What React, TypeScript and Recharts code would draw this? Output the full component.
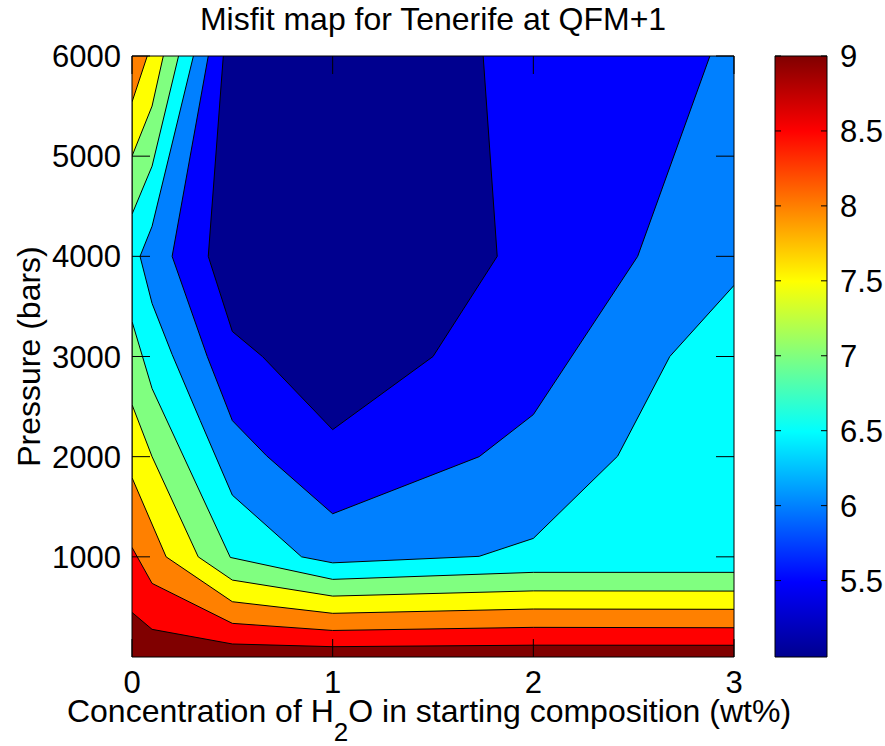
import { ComposedChart, Area, XAxis, YAxis, Label } from 'recharts';

type Pt = [number, number];

// contour edges: x = wt% H2O, y = pressure (bars).
// each edge is the outer boundary of the band named, the band fills from it up to 6000 bars
const plotFloor: Pt[] = [[0, 0], [3, 0]];
const redBand: Pt[] = [[0, 445], [0.1, 276], [0.5, 130], [1, 103], [2, 118], [3, 117]];
const orangeBand: Pt[] = [[0, 1094], [0.1, 735], [0.5, 336], [1, 265], [2, 296], [3, 292]];
const yellowBand: Pt[] = [
  [0.076, 6000], [0, 5540], [0, 1790], [0.17, 1000], [0.5, 552], [1, 436], [2, 479], [3, 476],
];
const greenBand: Pt[] = [
  [0.156, 6000], [0.1, 5500], [0, 5000], [0, 2520], [0.1, 2000], [0.33, 1000], [0.5, 768],
  [1, 608], [2, 660], [3, 658],
];
const cyanBand: Pt[] = [
  [0.232, 6000], [0.1, 4900], [0, 4420], [0, 3350], [0.1, 2680], [0.49, 994], [1, 775],
  [2, 845], [3, 845],
];
const skyBand: Pt[] = [
  [0.306, 6000], [0.1, 4300], [0.04, 4000], [0.1, 3530], [0.2, 3020], [0.34, 2360], [0.5, 1616],
  [0.845, 1000], [1, 940], [1.73, 1005], [2, 1184], [2.42, 2005], [2.68, 3000], [3, 3710],
];
const blueBand: Pt[] = [
  [0.38, 6000], [0.2, 4000], [0.375, 3000], [0.5, 2360], [0.67, 2010], [1, 1430], [1.73, 2000],
  [2, 2420], [2.52, 4000], [2.88, 6000],
];
const navyBand: Pt[] = [
  [0.455, 6000], [0.38, 4000], [0.5, 3250], [0.65, 3000], [1, 2270], [1.5, 3000], [1.82, 4000],
  [1.75, 6000],
];

const bandColors = [
  '#800000', '#FF0000', '#FF8000', '#FFFF00', '#80FF80', '#00FFFF', '#0080FF', '#0000FF', '#00008F',
];
const bandEdges = [
  plotFloor, redBand, orangeBand, yellowBand, greenBand, cyanBand, skyBand, blueBand, navyBand,
];

const xTicks = [0, 1, 2, 3];
const yTicks = [1000, 2000, 3000, 4000, 5000, 6000];
const cbTicks = [5.5, 6, 6.5, 7, 7.5, 8, 8.5, 9];
const cbMin = 4.99;
const cbMax = 9;
const cbBar: Pt[] = [[0, cbMin], [1, cbMin]];

const FONT = '"Liberation Sans", Arial, Helvetica, sans-serif';
const FS = 32;
const TICK_FS = 31;

const toRows = (pts: Pt[]) => pts.map(([x, y]) => ({ x, y }));

const NoTick = () => null;

const LeftTick = ({ x, y, payload }: any) => (
  <text x={x - 27} y={y} dy="0.355em" textAnchor="end" fontSize={TICK_FS} fill="#000" fontFamily={FONT}>
    {payload.value}
  </text>
);

const BottomTick = ({ x, y, payload }: any) => (
  <text x={x} y={y + 52} textAnchor="middle" fontSize={TICK_FS} fill="#000" fontFamily={FONT}>
    {payload.value}
  </text>
);

const BarTick = ({ x, y, payload }: any) => (
  <text x={x + 17} y={y} dy="0.355em" textAnchor="start" fontSize={TICK_FS} fill="#000" fontFamily={FONT}>
    {payload.value}
  </text>
);

const TitleLabel = ({ viewBox }: any) => (
  <text
    x={viewBox.x + viewBox.width / 2}
    y={30}
    textAnchor="middle"
    fontSize={FS}
    fill="#000"
    fontFamily={FONT}
  >
    Misfit map for Tenerife at QFM+1
  </text>
);

const XLabel = ({ viewBox }: any) => (
  <text
    x={viewBox.x + viewBox.width / 2 - 4}
    y={viewBox.y + 65}
    textAnchor="middle"
    fontSize={FS}
    fill="#000"
    fontFamily={FONT}
  >
    Concentration of H
    <tspan fontSize={26} dy={19}>2</tspan>
    <tspan dy={-19}>O in starting composition (wt%)</tspan>
  </text>
);

const YLabel = ({ viewBox }: any) => {
  const cx = viewBox.x + 8;
  const cy = viewBox.y + viewBox.height / 2;
  return (
    <text
      x={cx}
      y={cy}
      transform={`rotate(-90, ${cx}, ${cy})`}
      textAnchor="middle"
      fontSize={FS}
      fill="#000"
      fontFamily={FONT}
    >
      Pressure (bars)
    </text>
  );
};

export default function App() {
  return (
    <div style={{ position: 'fixed', left: 0, top: 0, width: 885, height: 746, background: '#fff' }}>
      <div style={{ position: 'absolute', left: 0, top: 0 }}>
        <ComposedChart width={885} height={746} margin={{ top: 55, left: 32, right: 150, bottom: 29 }}>
          <XAxis
            xAxisId="b"
            type="number"
            dataKey="x"
            domain={[0, 3]}
            ticks={xTicks}
            allowDataOverflow
            height={60}
            tickSize={-18}
            stroke="#000"
            tick={<BottomTick />}
          >
            <Label content={<XLabel />} />
          </XAxis>
          <XAxis
            xAxisId="t"
            orientation="top"
            type="number"
            dataKey="x"
            domain={[0, 3]}
            ticks={xTicks}
            allowDataOverflow
            height={1}
            tickSize={-18}
            stroke="#000"
            tick={NoTick}
          >
            <Label content={<TitleLabel />} />
          </XAxis>
          <YAxis
            yAxisId="l"
            type="number"
            domain={[0, 6000]}
            ticks={yTicks}
            allowDataOverflow
            width={100}
            tickSize={-18}
            stroke="#000"
            tick={<LeftTick />}
          >
            <Label content={<YLabel />} />
          </YAxis>
          <YAxis
            yAxisId="r"
            orientation="right"
            type="number"
            domain={[0, 6000]}
            ticks={yTicks}
            allowDataOverflow
            width={1}
            tickSize={-18}
            stroke="#000"
            tick={NoTick}
          />
          {bandEdges.map((edge, i) => (
            <Area
              key={i}
              xAxisId="b"
              yAxisId="l"
              data={toRows(edge)}
              dataKey="y"
              type="linear"
              baseValue={6000}
              fill={bandColors[i]}
              fillOpacity={1}
              stroke={i === 0 ? 'none' : '#000'}
              strokeWidth={1}
              dot={false}
              activeDot={false}
              isAnimationActive={false}
            />
          ))}
        </ComposedChart>
      </div>
      <div style={{ position: 'absolute', left: 765, top: 0 }}>
        <ComposedChart width={120} height={746} margin={{ top: 55, left: 9, right: 0, bottom: 88 }}>
          <defs>
            <linearGradient id="jet" x1="0" y1="1" x2="0" y2="0">
              <stop offset="0" stopColor="#00008F" />
              <stop offset="0.125" stopColor="#0000FF" />
              <stop offset="0.375" stopColor="#00FFFF" />
              <stop offset="0.625" stopColor="#FFFF00" />
              <stop offset="0.875" stopColor="#FF0000" />
              <stop offset="1" stopColor="#800000" />
            </linearGradient>
          </defs>
          <XAxis
            xAxisId="c"
            type="number"
            dataKey="x"
            domain={[0, 1]}
            allowDataOverflow
            height={1}
            stroke="#000"
            tickLine={false}
            tick={NoTick}
          />
          <XAxis
            xAxisId="ct"
            orientation="top"
            type="number"
            dataKey="x"
            domain={[0, 1]}
            allowDataOverflow
            height={1}
            stroke="#000"
            tickLine={false}
            tick={NoTick}
          />
          <YAxis
            yAxisId="cl"
            type="number"
            domain={[cbMin, cbMax]}
            ticks={cbTicks}
            allowDataOverflow
            width={1}
            tickSize={-6}
            stroke="#000"
            tick={NoTick}
          />
          <YAxis
            yAxisId="cr"
            orientation="right"
            type="number"
            domain={[cbMin, cbMax]}
            ticks={cbTicks}
            allowDataOverflow
            width={58}
            tickSize={-6}
            stroke="#000"
            tick={<BarTick />}
          />
          <Area
            xAxisId="c"
            yAxisId="cr"
            data={toRows(cbBar)}
            dataKey="y"
            type="linear"
            baseValue={cbMax}
            fill="url(#jet)"
            fillOpacity={1}
            stroke="none"
            dot={false}
            activeDot={false}
            isAnimationActive={false}
          />
        </ComposedChart>
      </div>
    </div>
  );
}
